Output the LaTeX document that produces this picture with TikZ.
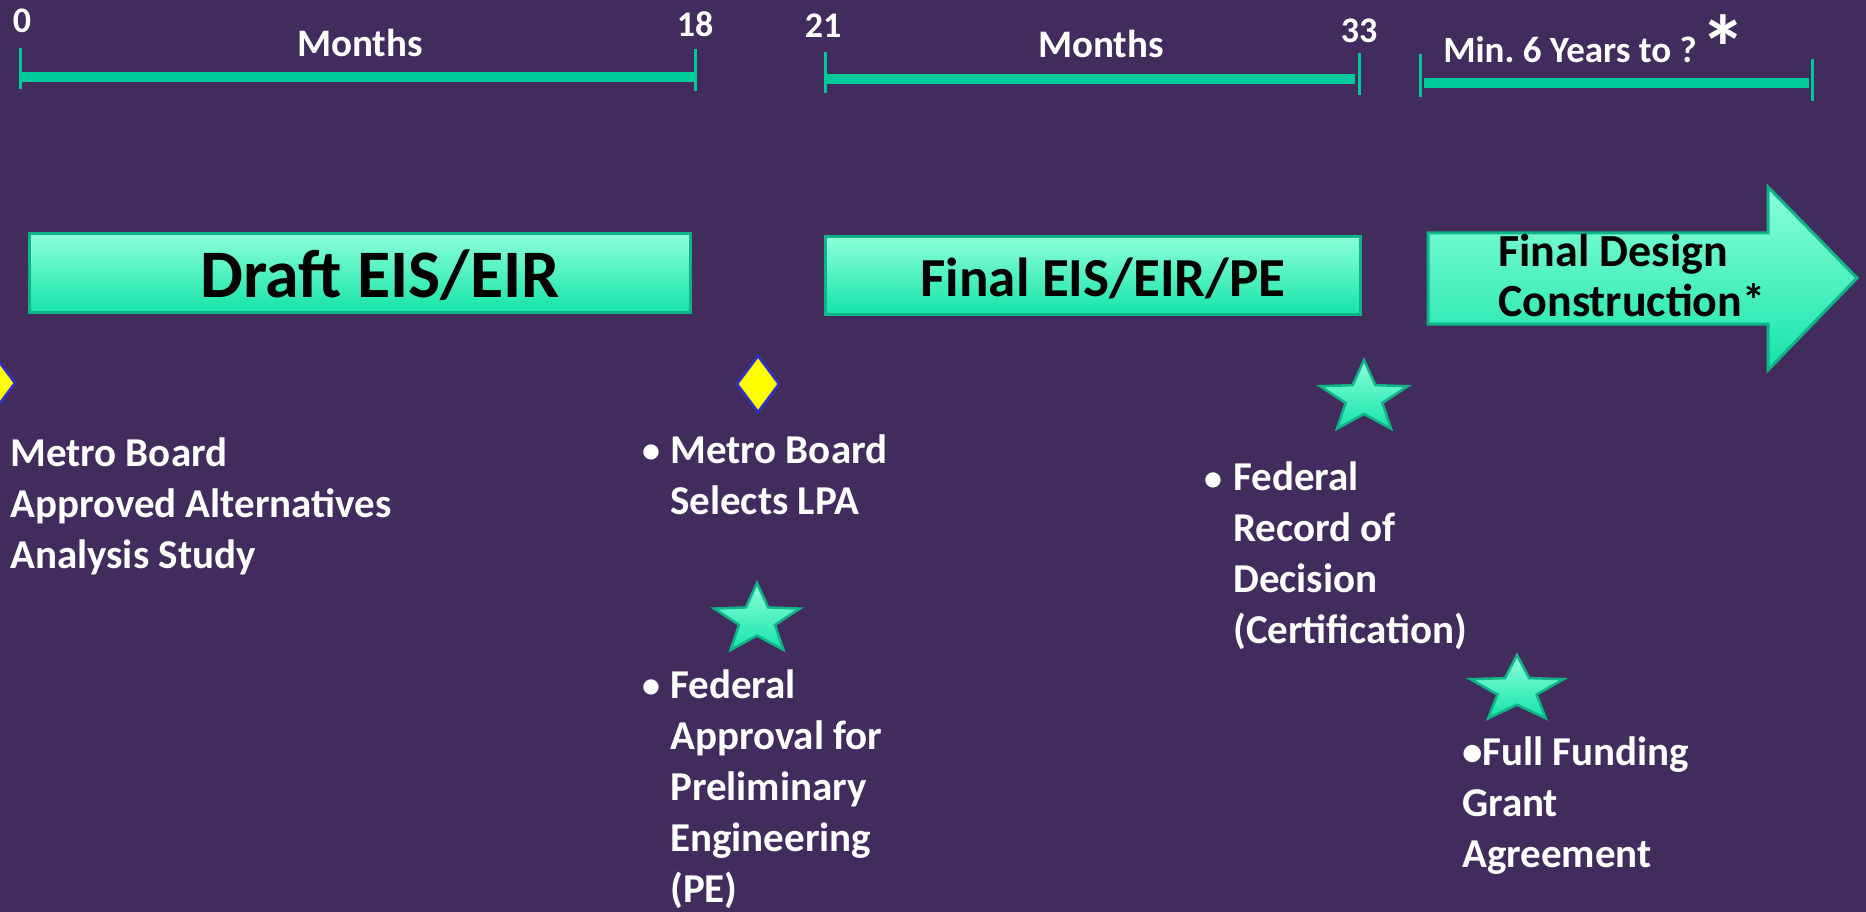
\documentclass[tikz,border=0pt]{standalone}
\usepackage{fontspec}
\setmainfont{Carlito}
\frenchspacing
\usetikzlibrary{shapes.geometric}
\definecolor{bg}{RGB}{66,44,94}
\definecolor{barg}{RGB}{0,201,154}
\definecolor{boxtop}{RGB}{140,255,218}
\definecolor{boxbot}{RGB}{22,228,168}
\definecolor{boxedge}{RGB}{16,180,136}
\definecolor{dyel}{RGB}{255,255,0}
\definecolor{dblue}{RGB}{50,50,200}
\tikzset{
  barline/.style={line width=10pt, draw=barg},
  tickline/.style={line width=3pt, draw=barg},
  tlbl/.style={text=white, inner sep=0, anchor=base, font=\bfseries\fontsize{36}{44}\selectfont},
  mlbl/.style={text=white, inner sep=0, anchor=base, font=\bfseries\fontsize{39}{46}\selectfont},
  phase/.style={draw=boxedge, line width=3pt, top color=boxtop, bottom color=boxbot},
  ptext/.style={text=black, inner sep=0, anchor=base},
  note/.style={text=white, inner sep=0, anchor=base west, align=left, font=\bfseries\fontsize{41}{51}\selectfont},
  bul/.style={text=white, inner sep=0, anchor=base, font=\bfseries\fontsize{36}{51}\selectfont},
  gem/.style={diamond, draw=dblue, line width=2.5pt, fill=dyel, inner sep=0, aspect=0.75, minimum width=43pt, minimum height=57pt},
  pics/mstar/.style n args={2}{code={
    \pgfmathsetmacro\rx{#1}\pgfmathsetmacro\ry{#2}
    \pgfmathsetmacro\ix{0.42*#1}\pgfmathsetmacro\iy{0.42*#2}
    \path[draw=boxedge, line width=2.5pt, top color=boxtop, bottom color=boxbot]
      (90:\rx pt and \ry pt) -- (126:\ix pt and \iy pt) -- (162:\rx pt and \ry pt)
      -- (198:\ix pt and \iy pt) -- (234:\rx pt and \ry pt) -- (270:\ix pt and \iy pt)
      -- (306:\rx pt and \ry pt) -- (342:\ix pt and \iy pt) -- (18:\rx pt and \ry pt)
      -- (54:\ix pt and \iy pt) -- cycle;
  }}
}
\begin{document}
\begin{tikzpicture}[x=1pt,y=-1pt]
\clip (0,0) rectangle (1866,912);
\fill[bg] (0,0) rectangle (1866,912);

% timeline 1
\coordinate (a1) at (20,77); \coordinate (a2) at (694,77);
\draw[barline] (a1) -- (a2);
\draw[tickline] (20,48) -- (20,89);
\draw[tickline] (695,49) -- (695,91);
\node[tlbl] (n0) at (22,33) {0};
\node[tlbl] (n18) at (695,37) {18};
\node[mlbl] (m1) at (360,57) {Months};

% timeline 2
\coordinate (b1) at (825,79); \coordinate (b2) at (1355,79);
\draw[barline] (b1) -- (b2);
\draw[tickline] (825,52) -- (825,93);
\draw[tickline] (1359,53) -- (1359,95);
\node[tlbl] (n21) at (823,38) {21};
\node[tlbl] (n33) at (1359,43) {33};
\node[mlbl] (m2) at (1101,58) {Months};

% timeline 3
\coordinate (c1) at (1424,83); \coordinate (c2) at (1809,83);
\draw[barline] (c1) -- (c2);
\draw[tickline] (1420,54) -- (1420,97);
\draw[tickline] (1812,59) -- (1812,101);
\node[mlbl, font=\bfseries\fontsize{37}{44}\selectfont] (m3) at (1570,63) {Min. 6 Years to ?};
\node[text=white, inner sep=0, anchor=base, font=\bfseries\fontsize{92}{96}\selectfont] (ast) at (1723,81) {*};

% phase boxes
\node[phase, minimum width=661pt, minimum height=78pt, inner sep=0] (draft) at (359.5,273) {};
\node[ptext, font=\bfseries\fontsize{68}{80}\selectfont] (draftT) at (380,297) {Draft EIS/EIR};
\node[phase, minimum width=535pt, minimum height=77pt, inner sep=0] (final) at (1092.5,275.5) {};
\node[ptext, font=\bfseries\fontsize{55}{66}\selectfont] (finalT) at (1103,296) {Final EIS/EIR/PE};
\path[phase] (1428,233) -- (1768,233) -- (1768,187) -- (1857,278) -- (1768,370) -- (1768,324) -- (1428,324) -- cycle;
\node[ptext, anchor=base west, align=left, font=\bfseries\fontsize{46}{50}\selectfont] (desT) at (1498,316) {Final Design\\Construction*};

% milestones
\node[gem] (d1) at (-6,383) {};
\node[gem] (d2) at (758,384) {};
\pic at (757,620) {mstar={45}{37}};
\pic at (1364,398) {mstar={46}{38}};
\pic at (1517,690) {mstar={49}{35}};

% notes (anchored at the baseline of the last line)
\node[note] (tA) at (10,568) {Metro Board\\Approved Alternatives\\Analysis Study};
\node[bul] (bB) at (651,462) {\textbullet};
\node[note] (tB) at (670,514) {Metro Board\\Selects LPA};
\node[bul] (bC) at (651,697) {\textbullet};
\node[note] (tC) at (670,902) {Federal\\Approval for\\Preliminary\\Engineering\\(PE)};
\node[bul] (bD) at (1213,490) {\textbullet};
\node[note] (tD) at (1233,643) {Federal\\Record of\\Decision\\(Certification)};
\node[note] (tE) at (1462,867) {\textbullet Full Funding\\Grant\\Agreement};
\end{tikzpicture}
\end{document}
